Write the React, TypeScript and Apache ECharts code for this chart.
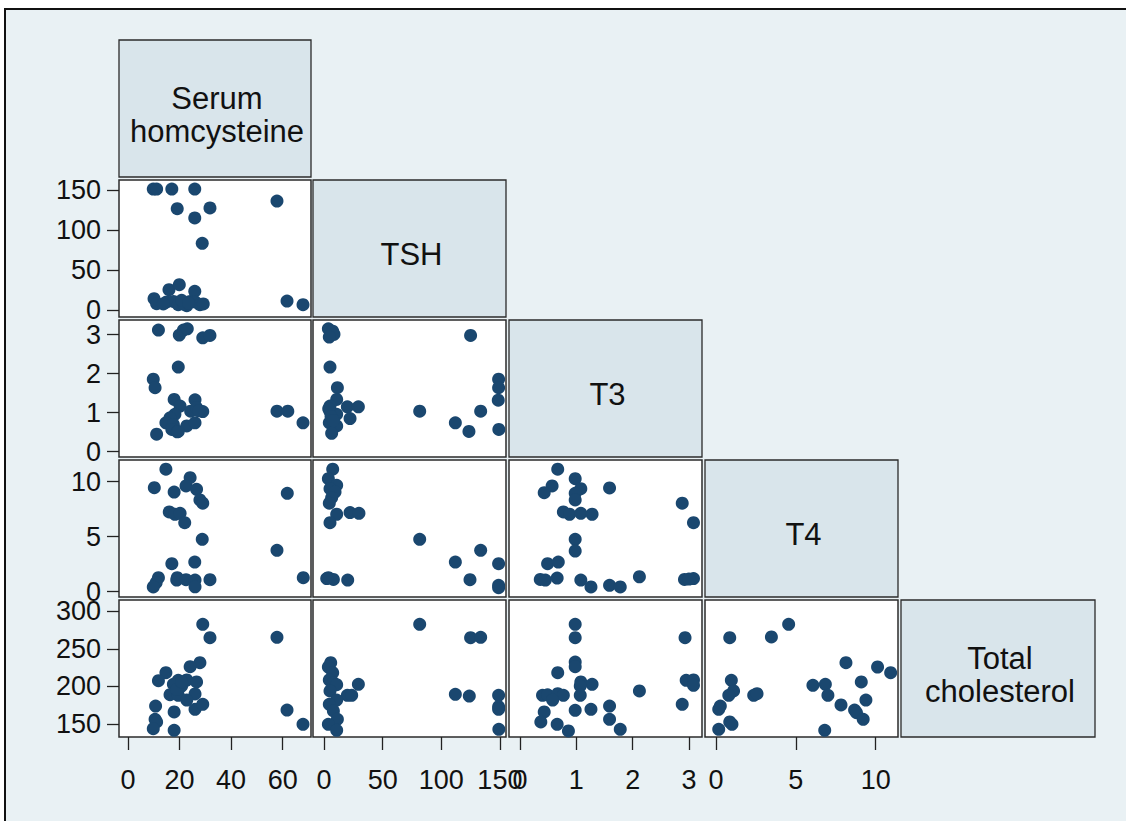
import React, { useEffect, useRef } from "react";
import * as echarts from "echarts";

// ---------- labels & ticks ----------
const variableLabels = ["Serum\nhomcysteine", "TSH", "T3", "T4", "Total\ncholesterol"];
const serumTicks = [0, 20, 40, 60];
const tshTicks = [0, 50, 100, 150];
const t3Ticks = [0, 1, 2, 3];
const t4Ticks = [0, 5, 10];
const cholTicks = [150, 200, 250, 300];

// ---------- panel data (x, y) ----------
const tshVsSerum = [
  [9.8, 151.6], [11.1, 151.6], [17.0, 151.6], [25.9, 151.6], [19.1, 127], [31.8, 127.9],
  [25.9, 115.4], [28.8, 83.7], [57.8, 136.6], [61.7, 11.6], [67.9, 7], [10.1, 14.5],
  [11.1, 8.3], [15.9, 25.8], [19.9, 32], [25.9, 23.7], [15.0, 10.4], [17.6, 11], [19.5, 7],
  [22.8, 5.8], [24.1, 11], [26.0, 10.4], [27.9, 7], [29.2, 7.9], [13.7, 7.9], [21.5, 7.9],
  [20.8, 12.5], [23.5, 9],
];
const t3VsSerum = [
  [11.8, 3.12], [19.9, 2.99], [21.5, 3.12], [23.0, 3.15], [29.0, 2.92], [31.8, 2.98],
  [19.5, 2.17], [9.8, 1.86], [10.5, 1.64], [17.9, 1.34], [20.2, 1.17], [26.0, 1.33],
  [24.3, 1.04], [26.6, 1.13], [29.0, 1.03], [18.2, 0.96], [16.3, 0.87], [14.7, 0.74],
  [17.6, 0.7], [17.0, 0.57], [19.1, 0.51], [22.8, 0.66], [26.0, 0.74], [11.1, 0.45],
  [57.8, 1.04], [62.0, 1.04], [67.9, 0.74], [19.5, 0.52], [27.5, 1.05],
];
const t3VsTsh = [
  [3.7, 3.15], [7.4, 3.09], [8.5, 3.01], [4.5, 2.94], [125.0, 2.98], [5.1, 2.17],
  [11.4, 1.64], [10.8, 1.34], [5.1, 1.17], [19.9, 1.15], [29.3, 1.15], [5.1, 1.03],
  [10.8, 0.96], [22.2, 0.85], [4.5, 0.74], [10.8, 0.66], [6.5, 0.47], [81.6, 1.04],
  [112, 0.74], [123.6, 0.52], [133.6, 1.04], [148.9, 1.86], [148.9, 1.64], [148.6, 1.32],
  [149.1, 0.57], [4.0, 1.1], [6.0, 0.9], [8.0, 0.8],
];
const t4VsSerum = [
  [14.7, 11.13], [10.2, 9.45], [17.9, 9.06], [24.1, 10.36], [22.5, 9.61], [26.6, 9.31],
  [27.9, 8.34], [29.0, 8.04], [61.8, 8.94], [16.0, 7.25], [18.2, 7.04], [20.2, 7.13],
  [22.0, 6.27], [28.8, 4.76], [57.8, 3.76], [17.0, 2.55], [25.9, 2.7], [11.8, 1.27],
  [10.9, 0.82], [9.8, 0.43], [19.1, 1.27], [18.9, 1.06], [22.5, 1.09], [26.0, 1.06],
  [26.0, 0.45], [31.8, 1.09], [68.0, 1.27],
];
const t4VsTsh = [
  [7.4, 11.13], [3.7, 10.27], [10.8, 9.67], [5.1, 9.36], [9.4, 9.06], [6.5, 8.55],
  [4.5, 8.04], [10.8, 7.04], [22.2, 7.19], [29.8, 7.13], [5.1, 6.27], [81.6, 4.76],
  [133.6, 3.76], [112, 2.7], [148.9, 2.55], [3.7, 1.27], [8.0, 1.12], [20.2, 1.06],
  [124.5, 1.09], [148.9, 0.58], [148.9, 0.37], [2.3, 1.2],
];
const t4VsT3 = [
  [0.67, 11.13], [0.98, 10.27], [0.57, 9.61], [0.43, 9.0], [1.08, 9.36], [0.98, 8.94],
  [0.98, 8.34], [1.59, 9.43], [2.88, 8.04], [3.08, 6.27], [0.77, 7.25], [0.88, 7.04],
  [1.08, 7.13], [1.28, 7.04], [0.98, 4.76], [0.98, 3.7], [0.49, 2.55], [0.68, 2.7],
  [0.36, 1.12], [0.45, 1.06], [0.66, 1.24], [1.08, 1.06], [1.26, 0.43], [1.59, 0.58],
  [1.78, 0.43], [2.12, 1.36], [2.92, 1.12], [3.08, 1.2], [3.0, 1.15],
];
const cholVsSerum = [
  [29.0, 282.6], [31.8, 264.8], [57.8, 265.3], [61.7, 168.6], [67.9, 149.6], [27.9, 231.5],
  [24.1, 226.2], [14.7, 218.2], [11.8, 207.6], [19.5, 208.1], [22.8, 208.5], [26.6, 205.9],
  [17.6, 202.8], [20.8, 200.5], [16.3, 189], [19.5, 188.2], [26.0, 189.9], [22.8, 181.9],
  [26.0, 169.5], [29.0, 176.2], [10.7, 173.9], [17.9, 166], [10.5, 156.2], [11.1, 152.7],
  [9.8, 143.8], [17.9, 141.6], [18.9, 196.1], [20.8, 205.9],
];
const cholVsTsh = [
  [81.6, 282.6], [125.0, 264.8], [133.6, 265.3], [5.7, 231.5], [3.7, 225.8], [7.4, 218.2],
  [4.5, 208.5], [8.0, 205], [10.8, 202.3], [29.3, 202.8], [5.1, 193.9], [19.9, 188.2],
  [23.6, 188.2], [10.8, 181.9], [4.5, 176.2], [8.0, 167.3], [11.4, 156.2], [3.7, 149.6],
  [10.8, 141.6], [112, 189.5], [123.9, 187.2], [148.9, 188.2], [148.9, 173], [148.9, 169.5],
  [149.1, 143],
];
const cholVsT3 = [
  [0.98, 282.6], [0.98, 264.8], [2.93, 264.8], [0.98, 232.4], [0.98, 226.2], [0.67, 218.2],
  [1.08, 205.9], [1.28, 202.8], [1.07, 200.5], [2.12, 193.9], [2.95, 208.1], [3.08, 208.5],
  [3.08, 201.5], [0.4, 188.2], [0.49, 188.8], [0.67, 190.3], [0.77, 188.2], [0.58, 181.9],
  [1.07, 188.2], [2.88, 176.2], [1.59, 173.9], [0.98, 168.2], [1.26, 169.5], [0.43, 166],
  [1.59, 156.2], [0.37, 152.7], [0.66, 149.6], [1.78, 143], [0.86, 140.7],
];
const cholVsT4 = [
  [4.55, 282.6], [3.47, 265.7], [0.86, 264.8], [8.14, 231.5], [10.12, 225.8], [10.94, 218.2],
  [0.96, 208.1], [9.1, 205.9], [6.07, 201.5], [6.85, 202.8], [7.01, 188.2], [1.1, 193.9],
  [0.8, 188.2], [2.36, 188.2], [2.57, 190.3], [9.39, 181.9], [7.83, 175.3], [8.68, 168.6],
  [8.8, 165], [9.22, 156.2], [0.27, 173.9], [0.17, 169.5], [0.86, 152.7], [1.0, 149.6],
  [0.17, 143], [6.81, 141.6],
];

// ---------- layout / scale configuration ----------
const FONT = "'Liberation Sans', Arial, Helvetica, sans-serif";
const colLeft = [119, 313, 509, 705, 901];
const colW = [192, 193, 193, 193, 194];
const rowTop = [40, 180, 320, 460, 600];
const rowH = 137;
const ranges = [
  { min: -3.5, max: 71.0 },
  { min: -9.4, max: 155.2 },
  { min: -0.195, max: 3.231 },
  { min: -0.69, max: 11.4 },
  { min: 132.7, max: 314.9 },
];
const yRanges = [
  null,
  { min: -8.4, max: 162.9 },
  { min: -0.136, max: 3.377 },
  { min: -0.48, max: 11.97 },
  { min: 132.7, max: 314.9 },
];
const tickSets = [serumTicks, tshTicks, t3Ticks, t4Ticks, cholTicks];

const panels = [
  { r: 1, c: 0, data: tshVsSerum },
  { r: 2, c: 0, data: t3VsSerum },
  { r: 2, c: 1, data: t3VsTsh },
  { r: 3, c: 0, data: t4VsSerum },
  { r: 3, c: 1, data: t4VsTsh },
  { r: 3, c: 2, data: t4VsT3 },
  { r: 4, c: 0, data: cholVsSerum },
  { r: 4, c: 1, data: cholVsTsh },
  { r: 4, c: 2, data: cholVsT3 },
  { r: 4, c: 3, data: cholVsT4 },
];

export default function App() {
  const ref = useRef<HTMLDivElement>(null);

  useEffect(() => {
    if (!ref.current) return;
    const chart = echarts.init(ref.current, undefined, { renderer: "svg" });

    const grid: any[] = [];
    const xAxis: any[] = [];
    const yAxis: any[] = [];
    const series: any[] = [];

    panels.forEach((p, i) => {
      grid.push({
        left: colLeft[p.c],
        top: rowTop[p.r],
        width: colW[p.c],
        height: rowH,
        show: true,
        backgroundColor: "#ffffff",
        borderColor: "#2b2b2b",
        borderWidth: 1.5,
        containLabel: false,
      });
      const showX = p.r === 4;
      const showY = p.c === 0;
      xAxis.push({
        gridIndex: i,
        type: "value",
        min: ranges[p.c].min,
        max: ranges[p.c].max,
        axisLine: { show: false, onZero: false },
        splitLine: { show: false },
        axisTick: {
          show: showX,
          length: 13,
          lineStyle: { color: "#222", width: 1.3 },
          customValues: tickSets[p.c],
        },
        axisLabel: {
          show: showX,
          customValues: tickSets[p.c],
          margin: 29,
          fontSize: 27,
          color: "#111",
          fontFamily: FONT,
        },
      });
      yAxis.push({
        gridIndex: i,
        type: "value",
        min: (yRanges[p.r] as any).min,
        max: (yRanges[p.r] as any).max,
        axisLine: { show: false, onZero: false },
        splitLine: { show: false },
        axisTick: {
          show: showY,
          length: 12,
          lineStyle: { color: "#222", width: 1.3 },
          customValues: tickSets[p.r],
        },
        axisLabel: {
          show: showY,
          customValues: tickSets[p.r],
          margin: 18,
          fontSize: 27,
          color: "#111",
          fontFamily: FONT,
        },
      });
      series.push({
        type: "scatter",
        xAxisIndex: i,
        yAxisIndex: i,
        data: p.data,
        symbol: "circle",
        symbolSize: 13,
        itemStyle: { color: "#1a476f", opacity: 1 },
        emphasis: { disabled: true },
      });
    });

    const graphic: any[] = [];
    variableLabels.forEach((label, k) => {
      graphic.push({
        type: "rect",
        shape: { x: colLeft[k], y: rowTop[k], width: colW[k], height: rowH },
        style: { fill: "#d9e5eb", stroke: "#2b2b2b", lineWidth: 1.3 },
        silent: true,
      });
      graphic.push({
        type: "text",
        x: colLeft[k] + colW[k] / 2 + 2,
        y: rowTop[k] + rowH / 2 + 6,
        style: {
          text: label,
          fontSize: 31,
          fontFamily: FONT,
          fill: "#111",
          textAlign: "center",
          textVerticalAlign: "middle",
          lineHeight: 33,
        },
        silent: true,
      });
    });

    chart.setOption({
      animation: false,
      backgroundColor: "transparent",
      grid,
      xAxis,
      yAxis,
      series,
      graphic,
    });

    return () => chart.dispose();
  }, []);

  return (
    <div style={{ position: "absolute", left: 0, top: 0, width: 1126, height: 821, background: "#ffffff", overflow: "hidden" }}>
      <div
        style={{
          position: "absolute",
          left: 4,
          top: 8,
          width: 1140,
          height: 830,
          background: "#e9f1f4",
          borderLeft: "2px solid #111",
          borderTop: "2px solid #111",
        }}
      />
      <div ref={ref} style={{ position: "absolute", left: 0, top: 0, width: 1126, height: 821 }} />
    </div>
  );
}
